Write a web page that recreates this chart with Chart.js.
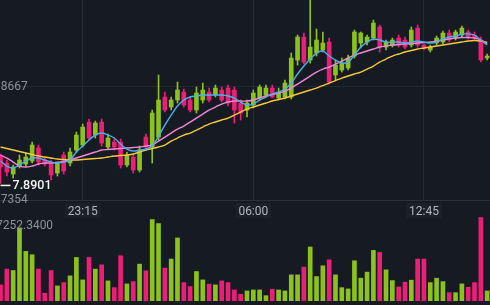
<!DOCTYPE html>
<html>
<head>
<meta charset="utf-8">
<script src="https://cdn.jsdelivr.net/npm/chart.js@4.4.1/dist/chart.umd.min.js"></script>
<style>
  html, body { margin: 0; padding: 0; background: #161a23; }
  #wrap { position: relative; width: 490px; height: 305px; overflow: hidden; background: #161a23; }
  #priceChart { position: absolute; left: 0; top: 0; }
  #volChart { position: absolute; left: 0; top: 217px; }
</style>
</head>
<body>
<div id="wrap">
  <canvas id="priceChart" width="490" height="218"></canvas>
  <canvas id="volChart" width="490" height="84"></canvas>
</div>
<script>
// 15 minute candles, first one at 20:00
const opens = [7.9165, 7.9105, 7.8995, 7.9075, 7.9095, 7.9125, 7.9255, 7.9135, 7.9105, 7.9005,
  7.9185, 7.9105, 7.9235, 7.9285, 7.9515, 7.9385, 7.9515, 7.9265, 7.9315, 7.9315,
  7.9085, 7.9165, 7.9035, 7.9365, 7.9265, 7.9365, 7.9765, 7.9665, 7.9735, 7.9815,
  7.9735, 7.9635, 7.9735, 7.9815, 7.9785, 7.9835, 7.9855, 7.9835, 7.9705, 7.9635,
  7.9685, 7.9755, 7.9785, 7.9855, 7.9755, 7.9765, 7.9765, 8.0135, 8.0365, 8.0135,
  8.0205, 8.0235, 8.0315, 7.9985, 8.0035, 8.0055, 8.0175, 8.0305, 8.0315, 8.0355,
  8.0465, 8.0265, 8.0285, 8.0355, 8.0335, 8.0285, 8.0455, 8.0285, 8.0235, 8.0305,
  8.0315, 8.0405, 8.0355, 8.0385, 8.0415, 8.0385, 8.0335, 8.0155];
const highs = [7.9195, 7.9135, 7.9085, 7.9185, 7.9205, 7.9315, 7.9285, 7.9155, 7.9135, 7.9055,
  7.9215, 7.9255, 7.9415, 7.9495, 7.9545, 7.9525, 7.9545, 7.9395, 7.9345, 7.9345,
  7.9215, 7.9195, 7.9275, 7.9395, 7.9635, 7.9985, 7.9815, 7.9765, 7.9915, 7.9845,
  7.9765, 7.9865, 7.9905, 7.9855, 7.9885, 7.9865, 7.9885, 7.9865, 7.9735, 7.9735,
  7.9835, 7.9885, 7.9885, 7.9885, 7.9855, 7.9935, 8.0205, 8.0385, 8.0405, 8.0785,
  8.0445, 8.0415, 8.0355, 8.0135, 8.0155, 8.0185, 8.0435, 8.0415, 8.0385, 8.0535,
  8.0485, 8.0335, 8.0355, 8.0385, 8.0365, 8.0465, 8.0485, 8.0295, 8.0285, 8.0375,
  8.0425, 8.0435, 8.0435, 8.0475, 8.0435, 8.0415, 8.0365, 8.0195];
const lows = [7.8901, 7.8975, 7.8955, 7.9055, 7.9075, 7.9105, 7.9085, 7.9075, 7.8935, 7.8975,
  7.8995, 7.9075, 7.9215, 7.9265, 7.9335, 7.9355, 7.9275, 7.9245, 7.9235, 7.9055,
  7.9065, 7.9005, 7.9015, 7.9245, 7.9105, 7.9335, 7.9615, 7.9635, 7.9705, 7.9665,
  7.9615, 7.9605, 7.9705, 7.9715, 7.9765, 7.9715, 7.9675, 7.9505, 7.9535, 7.9565,
  7.9655, 7.9735, 7.9765, 7.9755, 7.9735, 7.9745, 7.9745, 8.0085, 8.0095, 8.0105,
  8.0175, 8.0215, 7.9895, 7.9935, 8.0015, 8.0035, 8.0155, 8.0255, 8.0285, 8.0335,
  8.0215, 8.0235, 8.0265, 8.0265, 8.0245, 8.0265, 8.0265, 8.0235, 8.0215, 8.0285,
  8.0295, 8.0315, 8.0335, 8.0365, 8.0345, 8.0335, 8.0115, 8.0135];
const closes = [7.9065, 7.9015, 7.9065, 7.9135, 7.9165, 7.9285, 7.9115, 7.9095, 7.8985, 7.9115,
  7.9025, 7.9215, 7.9385, 7.9465, 7.9355, 7.9505, 7.9305, 7.9355, 7.9265, 7.9085,
  7.9185, 7.9035, 7.9235, 7.9265, 7.9605, 7.9735, 7.9635, 7.9735, 7.9835, 7.9685,
  7.9635, 7.9805, 7.9835, 7.9735, 7.9855, 7.9735, 7.9705, 7.9635, 7.9605, 7.9705,
  7.9805, 7.9865, 7.9855, 7.9765, 7.9815, 7.9905, 8.0155, 8.0365, 8.0115, 8.0265,
  8.0335, 8.0305, 7.9915, 8.0085, 8.0105, 8.0155, 8.0415, 8.0405, 8.0365, 8.0505,
  8.0265, 8.0315, 8.0335, 8.0285, 8.0265, 8.0435, 8.0285, 8.0255, 8.0265, 8.0355,
  8.0405, 8.0335, 8.0415, 8.0455, 8.0365, 8.0355, 8.0135, 8.0175];
const volumes = [1398, 2770, 2648, 6354, 4309, 4020, 2770, 673, 2648, 1311,
  1599, 2185, 3784, 1835, 3784, 2770, 3146, 1748, 1162, 3933,
  1486, 1687, 3208, 2622, 7080, 6730, 2858, 3645, 5480, 1599,
  1250, 2561, 1835, 1460, 1398, 1748, 1599, 961, 586, 874,
  961, 961, 463, 1023, 961, 874, 2272, 2272, 2945, 4693,
  2124, 3059, 3583, 2272, 1162, 1049, 3496, 1984, 2508, 4396,
  4221, 2709, 1774, 1224, 1634, 1809, 3645, 3645, 1599, 1984,
  1687, 725, 725, 1486, 1197, 1599, 7252.34, 874];

// moving averages as drawn (fast = blue, mid = pink, slow = yellow)
const maFast = [7.9125, 7.9075, 7.9055, 7.9085, 7.9125, 7.9155, 7.9155, 7.9135, 7.9115, 7.9105,
  7.9115, 7.9135, 7.9215, 7.9275, 7.9335, 7.9385, 7.9405, 7.9385, 7.9355, 7.9295,
  7.9245, 7.9225, 7.9235, 7.9245, 7.9275, 7.9375, 7.9485, 7.9585, 7.9675, 7.9735,
  7.9765, 7.9775, 7.9785, 7.9785, 7.9785, 7.9785, 7.9775, 7.9755, 7.9715, 7.9685,
  7.9695, 7.9735, 7.9765, 7.9795, 7.9815, 7.9845, 7.9905, 7.9995, 8.0075, 8.0145,
  8.0205, 8.0225, 8.0175, 8.0135, 8.0105, 8.0115, 8.0185, 8.0265, 8.0315, 8.0345,
  8.0335, 8.0315, 8.0315, 8.0315, 8.0305, 8.0315, 8.0325, 8.0315, 8.0305, 8.0315,
  8.0345, 8.0365, 8.0375, 8.0395, 8.0395, 8.0385, 8.0335, 8.0285];
const maMid = [7.9185, 7.9155, 7.9115, 7.9075, 7.9065, 7.9075, 7.9095, 7.9105, 7.9105, 7.911,
  7.912, 7.9135, 7.9155, 7.9175, 7.9195, 7.9215, 7.9235, 7.924, 7.9245, 7.925,
  7.9255, 7.926, 7.9265, 7.9275, 7.9285, 7.9325, 7.9365, 7.9405, 7.9445, 7.9475,
  7.9515, 7.9555, 7.9595, 7.9635, 7.9665, 7.9695, 7.9715, 7.9725, 7.9725, 7.9725,
  7.9735, 7.9755, 7.9775, 7.979, 7.9805, 7.9825, 7.9855, 7.9895, 7.9935, 7.9975,
  8.0015, 8.0045, 8.0065, 8.0095, 8.0125, 8.0155, 8.0185, 8.0205, 8.0225, 8.0245,
  8.0265, 8.0275, 8.0285, 8.029, 8.0295, 8.03, 8.0305, 8.031, 8.0315, 8.0325,
  8.0335, 8.0345, 8.0355, 8.036, 8.036, 8.0355, 8.0335, 8.0295];
const maSlow = [7.9265, 7.925, 7.9235, 7.922, 7.9205, 7.919, 7.9175, 7.9165, 7.9155, 7.9145,
  7.914, 7.9135, 7.9135, 7.914, 7.9145, 7.915, 7.9155, 7.9165, 7.9175, 7.918,
  7.9185, 7.9195, 7.9215, 7.9235, 7.925, 7.9265, 7.9285, 7.9325, 7.9355, 7.9385,
  7.9405, 7.9435, 7.9465, 7.9495, 7.9515, 7.9535, 7.9555, 7.9585, 7.9615, 7.9645,
  7.9665, 7.9685, 7.9705, 7.9725, 7.974, 7.9755, 7.9775, 7.9795, 7.9815, 7.9835,
  7.9855, 7.988, 7.9905, 7.993, 7.9955, 7.9975, 7.9995, 8.0015, 8.0045, 8.0075,
  8.0115, 8.0145, 8.0175, 8.0195, 8.0215, 8.023, 8.0245, 8.0255, 8.0265, 8.0275,
  8.0285, 8.0295, 8.0305, 8.0315, 8.0325, 8.033, 8.0325, 8.031];

// axis ticks
const timeTickIndex = [13, 40, 67];
const timeTickLabels = ['23:15', '06:00', '12:45'];
const priceTicks = [7.87354, 7.98667];

const upColor = '#8cc21e';
const downColor = '#ec1f78';
const candleColors = opens.map((o, i) => closes[i] >= o ? upColor : downColor);

// x range: first candle sits on the left edge, half cut off
const xMin = -0.085;
const xMax = 77.45;

Chart.defaults.font.family = 'Roboto';
Chart.defaults.font.size = 12;

const toPoints = arr => arr.map((v, i) => ({ x: i, y: v }));

function maLine(label, values, color) {
    return {
        type: 'line',
        label: label,
        data: toPoints(values),
        borderColor: color,
        borderWidth: 1.4,
        pointRadius: 0,
        tension: 0.35,
        order: 0
    };
}

// lowest price marker
const minMarker = {
    id: 'minMarker',
    afterDatasetsDraw(chart) {
        const { ctx, scales: { x, y } } = chart;
        const low = Math.min(...lows);
        const i = lows.indexOf(low);
        const px = x.getPixelForValue(i);
        const py = y.getPixelForValue(low) + 2;
        ctx.save();
        ctx.strokeStyle = '#f4f4f4';
        ctx.lineWidth = 1.5;
        ctx.beginPath();
        ctx.moveTo(px, py);
        ctx.lineTo(px + 10, py);
        ctx.stroke();
        ctx.fillStyle = '#f4f4f4';
        ctx.font = '500 12.5px Roboto';
        ctx.textBaseline = 'middle';
        ctx.fillText(low.toFixed(4), px + 12, py);
        ctx.restore();
    }
};

const priceChart = new Chart(document.getElementById('priceChart'), {
    type: 'bar',
    data: {
        datasets: [
            maLine('MA fast', maFast, '#4cb0e8'),
            maLine('MA mid', maMid, '#ef88d6'),
            maLine('MA slow', maSlow, '#f4c93a'),
            {
                label: 'body',
                data: opens.map((o, i) => ({ x: i, y: [o, closes[i]] })),
                backgroundColor: candleColors,
                barThickness: 4,
                minBarLength: 1,
                grouped: false,
                order: 1
            },
            {
                label: 'wick',
                data: lows.map((l, i) => ({ x: i, y: [l, highs[i]] })),
                backgroundColor: candleColors,
                barThickness: 1,
                grouped: false,
                order: 2
            }
        ]
    },
    options: {
        responsive: false,
        animation: false,
        layout: { padding: 0 },
        plugins: {
            legend: { display: false },
            tooltip: { enabled: false }
        },
        scales: {
            x: {
                type: 'linear',
                min: xMin,
                max: xMax,
                offset: false,
                afterBuildTicks: axis => {
                    axis.ticks = timeTickIndex.map(v => ({ value: v }));
                },
                afterFit: axis => { axis.height = 18; },
                grid: { color: '#252a35', drawTicks: false, offset: false },
                border: { display: true, color: '#2c313c' },
                ticks: {
                    color: '#b2b6be',
                    padding: 5,
                    maxRotation: 0,
                    autoSkip: false,
                    showLabelBackdrop: true,
                    backdropColor: '#1c2029',
                    backdropPadding: { x: 3, y: 2 },
                    callback: value => timeTickLabels[timeTickIndex.indexOf(value)]
                }
            },
            y: {
                position: 'left',
                min: 7.87354,
                max: 8.07354,
                afterBuildTicks: axis => {
                    axis.ticks = priceTicks.map(v => ({ value: v }));
                },
                afterFit: axis => { axis.width = 0; },
                grid: { color: '#242833', drawTicks: false },
                border: { display: false },
                ticks: {
                    mirror: true,
                    padding: -16,
                    color: '#8d9199',
                    callback: value => value.toFixed(5)
                }
            }
        }
    },
    plugins: [minMarker]
});

// max volume label, top left of the volume pane
const volLabel = {
    id: 'volLabel',
    afterDatasetsDraw(chart) {
        const { ctx, chartArea } = chart;
        ctx.save();
        ctx.fillStyle = '#8d9199';
        ctx.font = '12px Roboto';
        ctx.textBaseline = 'middle';
        ctx.fillText(Math.max(...volumes).toFixed(4), -4, chartArea.top + 9);
        ctx.restore();
    }
};

const volChart = new Chart(document.getElementById('volChart'), {
    type: 'bar',
    data: {
        datasets: [{
            label: 'volume',
            data: toPoints(volumes),
            backgroundColor: candleColors,
            barThickness: 4,
            grouped: false
        }]
    },
    options: {
        responsive: false,
        animation: false,
        layout: { padding: 0 },
        plugins: {
            legend: { display: false },
            tooltip: { enabled: false }
        },
        scales: {
            x: { type: 'linear', min: xMin, max: xMax, offset: false, display: false },
            y: { min: 0, max: 7300, display: false }
        }
    },
    plugins: [volLabel]
});
</script>
</body>
</html>
